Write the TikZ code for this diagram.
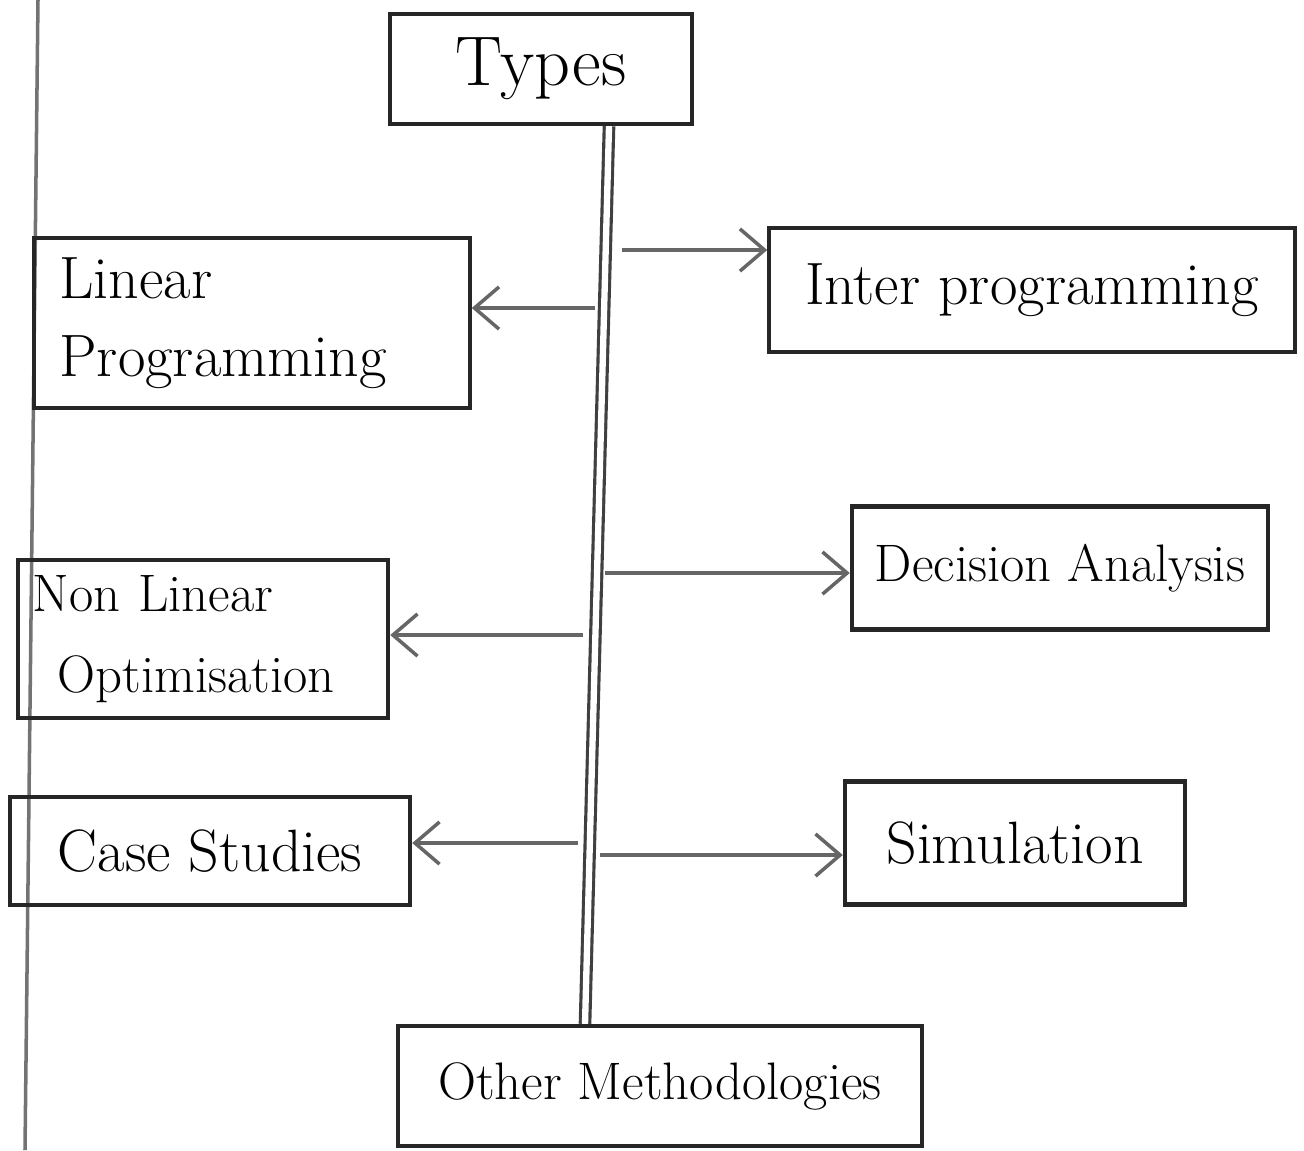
\documentclass[tikz,border=0pt]{standalone}
\usepackage{amsmath}
\usepackage{tikz}
\usetikzlibrary{arrows.meta}

\begin{document}
\begin{tikzpicture}[x=0.01cm, y=-0.01cm,
  main/.style = {draw=black!85, line width=1.2pt, inner sep=0pt, font=\fontsize{17}{22}\selectfont},
  arr/.style = {-{Straight Barb[length=7pt,width=12pt]}, draw=black!60, line width=1pt},
  spine/.style = {draw=black!75, double, double distance=1.8pt, line width=0.9pt}]
\useasboundingbox (0,0) rectangle (1304,1150);
\draw[black!55, line width=1pt] (38,0) -- (25,1150);
\node[main, minimum width=3.02cm, minimum height=1.1cm, font=\fontsize{20}{24}\selectfont] (1) at (541,69) {Types};
\node[main, minimum width=4.35cm, minimum height=1.7cm, text width=3.85cm, align=left] (2) at (252,323) {Linear\\Programming};
\node[main, minimum width=5.25cm, minimum height=1.24cm] (3) at (1032,290) {Inter programming};
\node[main, minimum width=3.7cm, minimum height=1.58cm, text width=3.4cm, align=left, font=\fontsize{15}{23}\selectfont] (4) at (203,639) {Non Linear\\\hspace*{0.25cm}Optimisation};
\node[main, minimum width=4.16cm, minimum height=1.23cm, font=\fontsize{15}{20}\selectfont] (5) at (1060,568) {Decision Analysis};
\node[main, minimum width=4cm, minimum height=1.08cm] (6) at (210,851) {Case Studies};
\node[main, minimum width=3.4cm, minimum height=1.23cm] (7) at (1015,843) {Simulation};
\node[main, minimum width=5.24cm, minimum height=1.2cm, font=\fontsize{15}{20}\selectfont] (8) at (660,1086) {Other Methodologies};
\coordinate (sx) at (609,0);
\coordinate (bx) at (585,0);
\draw[spine] (1.south -| sx) -- (8.north -| bx);
\coordinate (a2) at (595,308);
\coordinate (a3) at (622,250);
\coordinate (a4) at (583,635);
\coordinate (a5) at (605,573);
\coordinate (a6) at (578,843);
\coordinate (a7) at (600,855);
\draw[arr] (a2) -- (a2 -| 2.east);
\draw[arr] (a3) -- (a3 -| 3.west);
\draw[arr] (a4) -- (a4 -| 4.east);
\draw[arr] (a5) -- (a5 -| 5.west);
\draw[arr] (a6) -- (a6 -| 6.east);
\draw[arr] (a7) -- (a7 -| 7.west);
\end{tikzpicture}
\end{document}
